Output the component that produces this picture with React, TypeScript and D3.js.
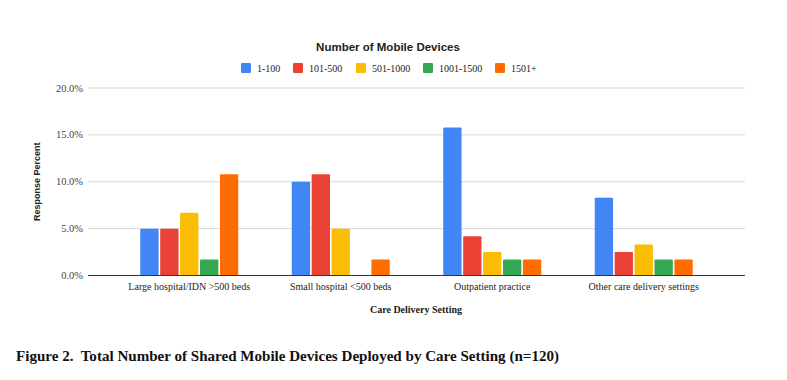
import React from "react";
import * as d3 from "d3";

const categories = [
  "Large hospital/IDN >500 beds",
  "Small hospital <500 beds",
  "Outpatient practice",
  "Other care delivery settings",
];
const seriesNames = ["1-100", "101-500", "501-1000", "1001-1500", "1501+"];
const s1_100 = [5.0, 10.0, 15.8, 8.3];
const s101_500 = [5.0, 10.8, 4.2, 2.5];
const s501_1000 = [6.7, 5.0, 2.5, 3.3];
const s1001_1500 = [1.7, 0, 1.7, 1.7];
const s1501plus = [10.8, 1.7, 1.7, 1.7];
const seriesValues = [s1_100, s101_500, s501_1000, s1001_1500, s1501plus];
const colors = ["#4285F4", "#EA4335", "#FBBC04", "#34A853", "#FF6D01"];
const yTicks = [0, 5, 10, 15, 20];

const W = 787;
const H = 380;
const left = 88;
const right = 745;
const top = 88;
const bottom = 275.5;

const SERIF = "'Liberation Serif', 'Times New Roman', serif";
const SANS = "'Liberation Sans', Arial, sans-serif";

export default function App() {
  const x0 = d3
    .scaleBand<string>()
    .domain(categories)
    .range([left, right])
    .paddingInner(0.353)
    .paddingOuter(0.345);
  const x1 = d3
    .scaleBand<string>()
    .domain(seriesNames)
    .range([0, x0.bandwidth()])
    .paddingInner(0.08);
  const y = d3.scaleLinear().domain([0, 20]).range([bottom, top]);

  const legendX = [241, 293, 356, 423, 495];

  return (
    <svg
      width={W}
      height={H}
      style={{ position: "absolute", left: 0, top: 0, background: "#fff" }}
    >
      <rect x={0} y={0} width={W} height={H} fill="#fff" />
      <text
        x={388}
        y={51}
        textAnchor="middle"
        style={{ fontFamily: SANS }}
        fontWeight="bold"
        fontSize={11.5}
        fill="#222"
      >
        Number of Mobile Devices
      </text>
      {seriesNames.map((s, i) => (
        <g key={s}>
          <rect x={legendX[i]} y={63} width={10} height={10} rx={1} fill={colors[i]} />
          <text x={legendX[i] + 16} y={71.5} style={{ fontFamily: SERIF }} fontSize={10} fill="#222">
            {s}
          </text>
        </g>
      ))}
      {yTicks.map((t) => (
        <g key={t}>
          {t !== 0 && (
            <line x1={left} x2={right} y1={y(t)} y2={y(t)} stroke="#d9d9d9" strokeWidth={1} />
          )}
          <text
            x={83}
            y={y(t) + 3.5}
            textAnchor="end"
            style={{ fontFamily: SERIF }}
            fontSize={10.5}
            fill="#444"
          >
            {d3.format(".1f")(t) + "%"}
          </text>
        </g>
      ))}
      {categories.map((c, ci) => (
        <g key={c} transform={`translate(${x0(c)},0)`}>
          {seriesNames.map((s, si) => {
            const v = seriesValues[si][ci];
            if (v <= 0) return null;
            return (
              <rect
                key={s}
                x={x1(s)}
                y={y(v)}
                width={x1.bandwidth()}
                height={y(0) - y(v)}
                rx={1}
                fill={colors[si]}
              />
            );
          })}
          <text
            x={x0.bandwidth() / 2}
            y={289.5}
            textAnchor="middle"
            style={{ fontFamily: SERIF }}
            fontSize={10}
            fill="#222"
          >
            {c}
          </text>
        </g>
      ))}
      <line x1={left} x2={right} y1={y(0)} y2={y(0)} stroke="#333" strokeWidth={1} />
      <text
        transform={`translate(40,${(top + bottom) / 2}) rotate(-90)`}
        textAnchor="middle"
        style={{ fontFamily: SANS }}
        fontWeight="bold"
        fontSize={9}
        fill="#222"
      >
        Response Percent
      </text>
      <text
        x={416}
        y={313}
        textAnchor="middle"
        style={{ fontFamily: SERIF }}
        fontWeight="bold"
        fontSize={10}
        fill="#222"
      >
        Care Delivery Setting
      </text>
      <text
        x={16}
        y={361}
        style={{ fontFamily: SERIF, whiteSpace: "pre" }}
        fontWeight="bold"
        fontSize={15.5}
        textLength={543}
        lengthAdjust="spacingAndGlyphs"
        fill="#111"
      >
        Figure 2.  Total Number of Shared Mobile Devices Deployed by Care Setting (n=120)
      </text>
    </svg>
  );
}
